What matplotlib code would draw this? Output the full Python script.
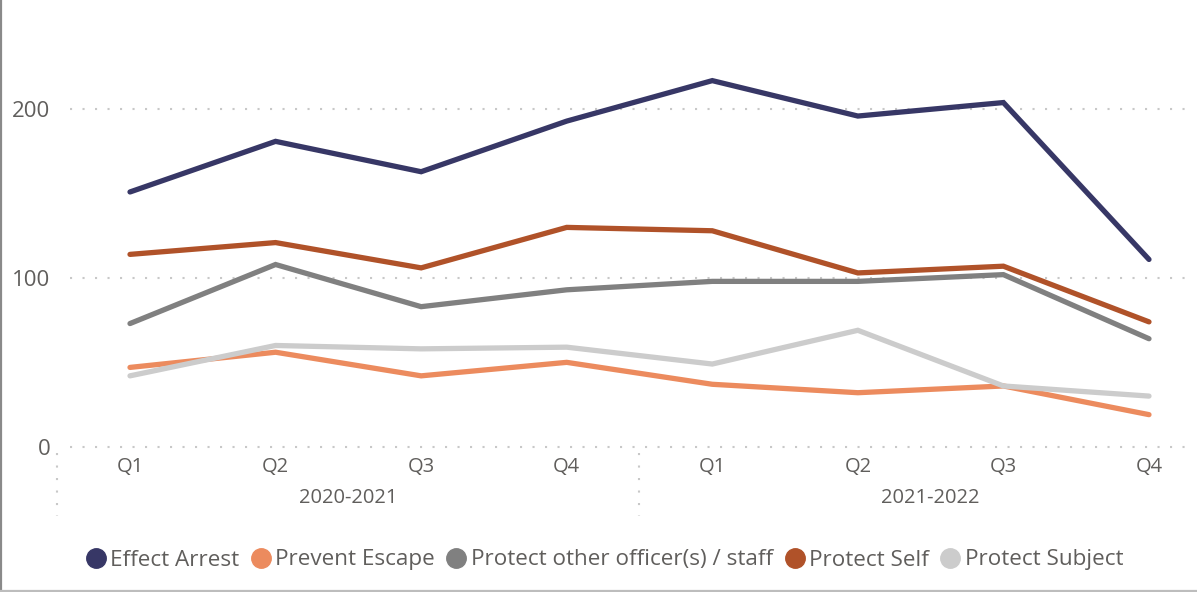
import matplotlib
matplotlib.use("Agg")
import matplotlib.pyplot as plt
from matplotlib.lines import Line2D
from matplotlib.transforms import blended_transform_factory

quarters = ["Q1", "Q2", "Q3", "Q4", "Q1", "Q2", "Q3", "Q4"]
years = ["2020-2021", "2021-2022"]
series_names = ["Effect Arrest", "Prevent Escape", "Protect other officer(s) / staff",
                "Protect Self", "Protect Subject"]
effect_arrest = [151, 181, 163, 193, 217, 196, 204, 111]
prevent_escape = [47, 56, 42, 50, 37, 32, 36, 19]
protect_other = [73, 108, 83, 93, 98, 98, 102, 64]
protect_self = [114, 121, 106, 130, 128, 103, 107, 74]
protect_subject = [42, 60, 58, 59, 49, 69, 36, 30]
colors = ["#373766", "#EC8B5E", "#808080", "#B05229", "#CCCCCC"]
yticks = [0, 100, 200]

plt.rcParams['font.family'] = ['Open Sans', 'DejaVu Sans']
TXT = "#605E5C"

W, H = 1197, 592
fig = plt.figure(figsize=(W / 100, H / 100), dpi=100)
ax_l, ax_r, ax_b, ax_t = 70, 1192, 446.7, 0
ax = fig.add_axes([ax_l / W, (H - ax_b) / H, (ax_r - ax_l) / W, (ax_b - ax_t) / H])

x = list(range(len(quarters)))
px_per = 145.57
ax.set_xlim((ax_l - 130) / px_per, (ax_r - 130) / px_per)
ax.set_ylim(0, 446.7 / 1.687)

data = [effect_arrest, prevent_escape, protect_other, protect_self, protect_subject]
# draw order: light ones first
order = [4, 1, 2, 3, 0]
for i in order:
    ax.plot(x, data[i], color=colors[i], lw=3.8, solid_capstyle='round',
            solid_joinstyle='miter', zorder=3 + i, clip_on=False)

for s in ax.spines.values():
    s.set_visible(False)
ax.set_xticks([])
ax.set_yticks(yticks)
ax.set_yticklabels([str(v) for v in yticks], fontsize=16, color=TXT)
ax.tick_params(axis='y', length=0, pad=14)
for v in yticks:
    ax.axhline(v, color="#C8C8C8", lw=1.5, linestyle=(0, (1, 5)), zorder=1, clip_on=False)

trans = blended_transform_factory(ax.transData, ax.transAxes)
for xi, q in zip(x, quarters):
    ax.annotate(q, xy=(xi, 0), xycoords=trans, xytext=(0, -14.6), textcoords='offset points',
                ha='center', va='center', fontsize=14.5, color=TXT, annotation_clip=False)
for k, yr in enumerate(years):
    ax.annotate(yr, xy=(1.5 + 4 * k, 0), xycoords=trans, xytext=(0, -37), textcoords='offset points',
                ha='center', va='center', fontsize=14.5, color=TXT, annotation_clip=False)

# category separators
for sx in [-0.5, 3.5]:
    xf = (130 + sx * px_per) / W
    fig.add_artist(Line2D([xf, xf], [(H - 453) / H, (H - 516) / H], transform=fig.transFigure,
                          color="#C8C8C8", lw=1.5, linestyle=(0, (1, 5))))

handles = [Line2D([], [], marker='o', linestyle='none', markersize=14,
                  markerfacecolor=c, markeredgecolor=c) for c in colors]
leg = fig.legend(handles, series_names, loc='center', ncol=5,
                 bbox_to_anchor=(605 / W, (H - 560) / H), frameon=False,
                 fontsize=16.2, handlelength=0.8, handletextpad=0.25, columnspacing=0.55,
                 borderaxespad=0, borderpad=0)
for t in leg.get_texts():
    t.set_color(TXT)

# frame borders
fig.add_artist(Line2D([1 / W, 1 / W], [0, 1], transform=fig.transFigure, color="#8A8A8A", lw=1.6))
fig.add_artist(Line2D([0, 1], [1.5 / H, 1.5 / H], transform=fig.transFigure, color="#BDBDBD", lw=1.6))

fig.savefig("out.png", dpi=100)
